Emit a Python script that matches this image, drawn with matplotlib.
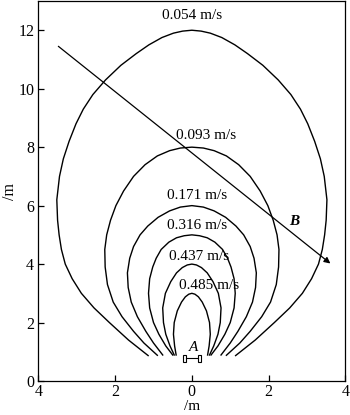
import numpy as np
import matplotlib
matplotlib.use("Agg")
import matplotlib.pyplot as plt
from matplotlib.patches import Rectangle

plt.rcParams["font.family"] = ["Liberation Serif", "DejaVu Serif"]
plt.rcParams["mathtext.fontset"] = "stix"

# Iso-velocity contours: half-width (x, m) at height (y, m), mirrored about x = 0
speeds = ["0.054 m/s", "0.093 m/s", "0.171 m/s", "0.316 m/s", "0.437 m/s", "0.485 m/s"]

y_054 = [0.87, 1.4, 2.0, 2.5, 3.0, 3.5, 4.0, 4.5, 5.0, 5.5, 6.2, 7.0, 7.6, 8.2, 8.8,
         9.3, 9.8, 10.3, 10.8, 11.2, 11.5, 11.75, 11.9, 11.97, 12.0]
x_054 = [1.14, 1.65, 2.15, 2.55, 2.88, 3.12, 3.30, 3.40, 3.46, 3.50, 3.52, 3.45, 3.35,
         3.20, 3.02, 2.83, 2.58, 2.25, 1.85, 1.45, 1.12, 0.78, 0.48, 0.24, 0.0]

y_093 = [0.88, 1.3, 1.7, 2.2, 2.7, 3.3, 3.9, 4.5, 5.0, 5.5, 6.0, 6.5, 7.0, 7.4, 7.7,
         7.88, 7.97, 8.0]
x_093 = [0.90, 1.25, 1.52, 1.82, 2.05, 2.20, 2.26, 2.27, 2.22, 2.12, 1.98, 1.78, 1.52,
         1.22, 0.90, 0.58, 0.30, 0.0]

y_171 = [0.89, 1.3, 1.7, 2.2, 2.7, 3.2, 3.7, 4.2, 4.6, 5.0, 5.3, 5.6, 5.82, 5.95, 6.0]
x_171 = [0.76, 1.00, 1.20, 1.42, 1.58, 1.66, 1.68, 1.62, 1.52, 1.35, 1.15, 0.88, 0.58,
         0.30, 0.0]

y_316 = [0.89, 1.2, 1.6, 2.0, 2.5, 3.0, 3.5, 3.9, 4.2, 4.5, 4.75, 4.9, 4.97, 5.0]
x_316 = [0.50, 0.68, 0.86, 1.00, 1.10, 1.13, 1.10, 1.02, 0.93, 0.80, 0.60, 0.40, 0.20,
         0.0]

y_437 = [0.89, 1.2, 1.6, 2.0, 2.5, 3.0, 3.4, 3.7, 3.88, 3.97, 4.0]
x_437 = [0.46, 0.57, 0.68, 0.74, 0.76, 0.69, 0.55, 0.40, 0.25, 0.12, 0.0]

y_485 = [0.89, 1.2, 1.6, 2.0, 2.4, 2.7, 2.88, 2.97, 3.0]
x_485 = [0.41, 0.45, 0.48, 0.46, 0.38, 0.27, 0.17, 0.08, 0.0]

contours = [(y_054, x_054), (y_093, x_093), (y_171, x_171),
            (y_316, x_316), (y_437, x_437), (y_485, x_485)]

# label centres (x, y) for each contour
label_x = [0.0, 0.36, 0.14, 0.14, 0.20, 0.45]
label_y = [12.5, 8.41, 6.36, 5.33, 4.25, 3.28]

# direction line B
line_b_start = (-3.48, 11.45)
line_b_end = (3.61, 4.02)

x_ticks = [-4, -2, 0, 2, 4]
x_tick_labels = ["4", "2", "0", "2", "4"]
y_ticks = [0, 2, 4, 6, 8, 10, 12]


def main():
    fig = plt.figure(figsize=(3.5, 4.15), dpi=100)
    ax = fig.add_axes([0.1097, 0.0819, 0.877, 0.9157])

    for y, x in contours:
        xs = [-v for v in x] + x[::-1][1:]
        ys = list(y) + y[::-1][1:]
        ax.plot(xs, ys, color="black", linewidth=1.0)

    for text, lx, ly in zip(speeds, label_x, label_y):
        ax.text(lx, ly, text, fontsize=11, ha="center", va="center")

    # direction line with arrow
    ax.annotate("", xy=line_b_end, xytext=line_b_start,
                arrowprops=dict(arrowstyle="-|>", color="black", lw=0.9,
                                mutation_scale=9, shrinkA=0, shrinkB=0))
    ax.text(2.67, 5.47, "B", fontsize=11, fontweight="bold", fontstyle="italic",
            ha="center", va="center")

    # vehicle A
    ax.add_patch(Rectangle((-0.24, 0.66), 0.08, 0.24, fill=False, lw=0.8, ec="black"))
    ax.add_patch(Rectangle((0.17, 0.66), 0.08, 0.24, fill=False, lw=0.8, ec="black"))
    ax.plot([-0.16, 0.17], [0.78, 0.78], color="black", lw=0.8)
    ax.text(0.04, 1.15, "A", fontsize=11, fontstyle="italic", ha="center", va="center")

    ax.set_xlim(-4, 4)
    ax.set_ylim(0, 13)
    ax.set_xticks(x_ticks)
    ax.set_xticklabels(x_tick_labels)
    ax.set_yticks(y_ticks)
    ax.tick_params(direction="in", length=4, width=0.9, labelsize=11.5, pad=3,
                   top=False, right=False)
    ax.tick_params(axis="x", pad=2)
    for sp in ax.spines.values():
        sp.set_linewidth(0.9)
    ax.set_xlabel("/m", fontsize=11, labelpad=0)
    ax.set_ylabel("/m", fontsize=11.5, labelpad=0)

    fig.savefig("out.png", dpi=100)
    plt.close(fig)


if __name__ == "__main__":
    main()
